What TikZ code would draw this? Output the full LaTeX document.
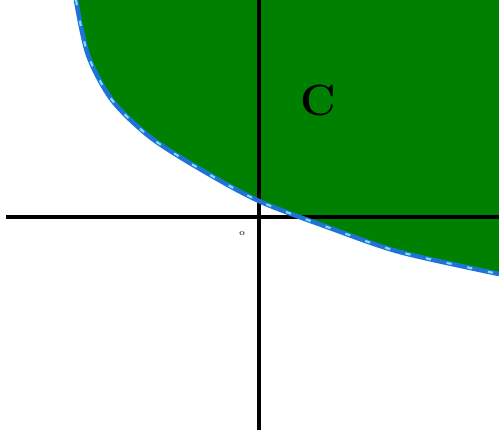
\documentclass[tikz,border=0pt]{standalone}
\usepackage{tikz}
\usetikzlibrary{calc}
\definecolor{verderegion}{RGB}{0,128,0}
\definecolor{azulborde}{RGB}{30,115,215}
\definecolor{cianborde}{RGB}{125,225,240}
\begin{document}
\begin{tikzpicture}[
  x=0.02cm, y=-0.02cm,
  eje/.style={black, line width=1.8pt},
  borde/.style={azulborde, line width=2.6pt},
  bordedash/.style={cianborde, line width=1.2pt, dash pattern=on 3pt off 9pt},
  etiqueta/.style={inner sep=0pt, font=\Huge\bfseries}
]
  \useasboundingbox (0,0) rectangle (499,430);
  \def\curva{(76,0) (88,55) (112,100) (150,137) (200,169) (259,201)
    (330,228) (400,252) (499,274)}
  % region
  \fill[verderegion] plot[smooth] coordinates {\curva} -- (499,0) -- cycle;
  % ejes
  \coordinate (xizq) at (6,217);
  \coordinate (xder) at (499,217);
  \coordinate (yarr) at (259,0);
  \coordinate (yaba) at (259,430);
  \draw[eje] (xizq) -- (xder);
  \draw[eje] (yarr) -- (yaba);
  % borde
  \draw[borde] plot[smooth] coordinates {\curva};
  \draw[bordedash] plot[smooth] coordinates {\curva};
  \node[etiqueta] (conjC) at (318,100) {C};
  \node[inner sep=0pt, font=\tiny] (origen) at (242,234) {o};
\end{tikzpicture}
\end{document}
